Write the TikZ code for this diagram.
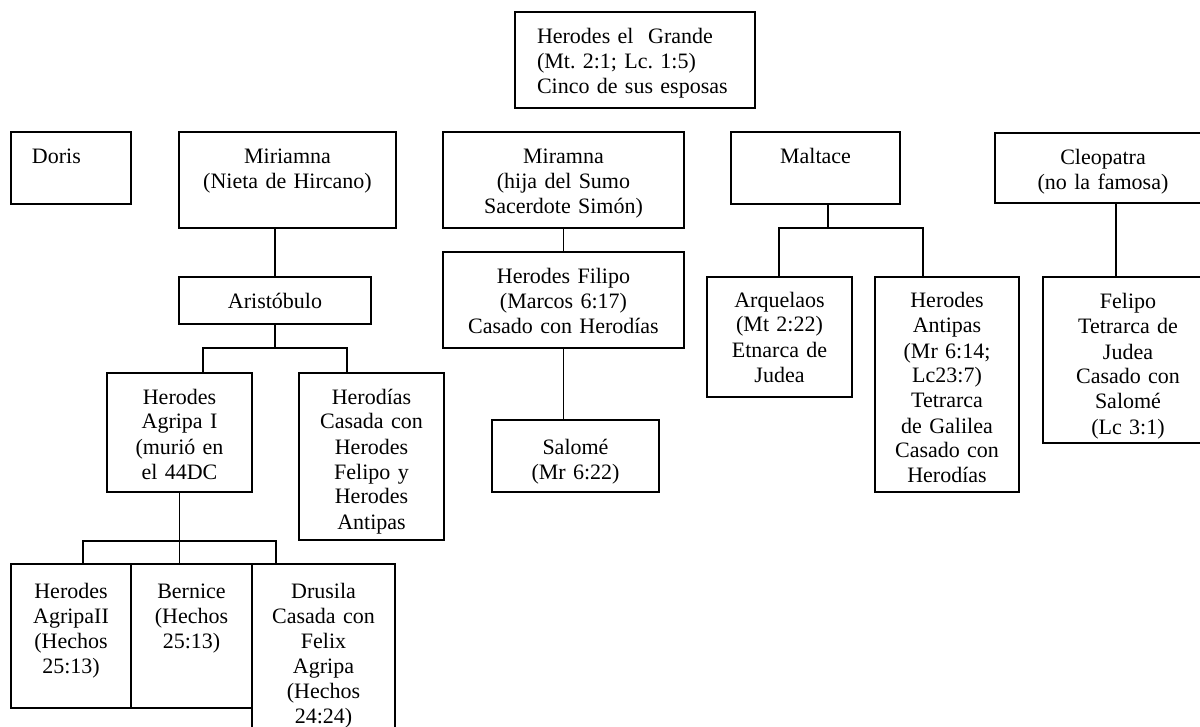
\documentclass[tikz,border=0pt]{standalone}
\usepackage{fontspec}
\setmainfont{Liberation Serif}
\usetikzlibrary{positioning}
\frenchspacing

\begin{document}
\begin{tikzpicture}[x=0.5pt, y=-0.5pt,
		caja/.style={rectangle, draw, line width=0.9pt, align=center, inner xsep=0pt, inner ysep=0pt, outer sep=0pt, anchor=north west, text height=16pt, font=\fontsize{11pt}{12.5pt}\selectfont},
		enlace/.style={line width=0.9pt}]
		\useasboundingbox (0,0) rectangle (1200,727);
		\clip (0,0) rectangle (1200,727);
		\node[caja, align=left, inner xsep=11pt, text width=98pt, text depth=32pt] (grande) at (515,12) {Herodes el\ \ Grande\\(Mt. 2:1; Lc. 1:5)\\Cinco de sus esposas};
		\node[caja, align=left, inner xsep=10.5pt, text width=39pt, text depth=20pt] (doris) at (11,132) {Doris};
		\node[caja, text width=108.5pt, text depth=32pt] (miriamna) at (179,132) {Miriamna\\(Nieta de Hircano)};
		\node[caja, text width=120.5pt, text depth=32pt] (miramna) at (443,132) {Miramna\\(hija del Sumo\\Sacerdote Simón)};
		\node[caja, text width=84.5pt, text depth=20pt] (maltace) at (731,132) {Maltace};
		\node[caja, text width=108pt, text depth=19pt] (cleopatra) at (995,133) {Cleopatra\\(no la famosa)};
		\node[caja, text width=96pt, text depth=7.5pt] (aristobulo) at (179,277) {Aristóbulo};
		\node[caja, text width=120.5pt, text depth=32pt] (filipo) at (443,252) {Herodes Filipo\\(Marcos 6:17)\\Casado con Herodías};
		\node[caja, text width=72.5pt, text height=15pt, text depth=45pt] (arquelaos) at (707,277) {Arquelaos\\(Mt 2:22)\\Etnarca de\\Judea};
		\node[caja, text width=72pt, text height=15.5pt, text depth=92pt] (antipas) at (875,277) {Herodes\\Antipas\\(Mr 6:14;\\Lc23:7)\\Tetrarca\\de Galilea\\Casado con\\Herodías};
		\node[caja, text width=85pt, text depth=67pt] (felipo) at (1043,277) {Felipo\\Tetrarca de\\Judea\\Casado con\\Salomé\\(Lc 3:1)};
		\node[caja, text width=72.5pt, text height=15.5pt, text depth=44pt] (agripa) at (107,373) {Herodes\\Agripa I\\(murió en\\el 44DC};
		\node[caja, text width=72.5pt, text height=15.5pt, text depth=68pt] (herodias) at (299,373) {Herodías\\Casada con\\Herodes\\Felipo y\\Herodes\\Antipas};
		\node[caja, text width=83.5pt, text height=17pt, text depth=19pt] (salome) at (492,420) {Salomé\\(Mr 6:22)};
		\node[caja, text width=60pt, text height=17pt, text depth=55pt] (agripaii) at (11,564) {Herodes\\AgripaII\\(Hechos\\25:13)};
		\node[caja, anchor=west, right=0pt of agripaii, text width=60.5pt, text height=17pt, text depth=55pt] (bernice) {Bernice\\(Hechos\\25:13)};
		\node[caja, text width=71.5pt, text height=17pt, text depth=73pt] (drusila) at (bernice.north east) {Drusila\\Casada con\\Felix\\Agripa\\(Hechos\\24:24)};
		\coordinate (hijosA) at (203,348);
		\coordinate (hijosB) at (347,348);
		\coordinate (hijosC) at (779,228);
		\coordinate (hijosD) at (923,228);
		\coordinate (hijosE) at (83,541);
		\coordinate (hijosF) at (276,541);
		\draw[enlace] (miriamna.south -| aristobulo.north) -- (aristobulo.north);
		\draw[enlace] (aristobulo.south) -- (aristobulo.south |- hijosA);
		\draw[enlace] (agripa.north -| hijosA) -- (hijosA) -- (hijosB) -- (herodias.north -| hijosB);
		\draw[enlace] (miramna) -- (filipo);
		\draw[enlace] (filipo.south) -- (filipo.south |- salome.north);
		\draw[enlace] ([xshift=6.25pt]maltace.south) -- ([xshift=6.25pt]maltace.south |- hijosC);
		\draw[enlace] (arquelaos.north -| hijosC) -- (hijosC) -- (hijosD) -- (antipas.north -| hijosD);
		\draw[enlace] ([xshift=6.5pt]cleopatra.south) -- ([xshift=6.5pt]cleopatra.south |- felipo.north);
		\draw[enlace] (agripa.south) -- (agripa.south |- bernice.north);
		\draw[enlace] (agripaii.north -| hijosE) -- (hijosE) -- (hijosF) -- (drusila.north -| hijosF);
\end{tikzpicture}
\end{document}
